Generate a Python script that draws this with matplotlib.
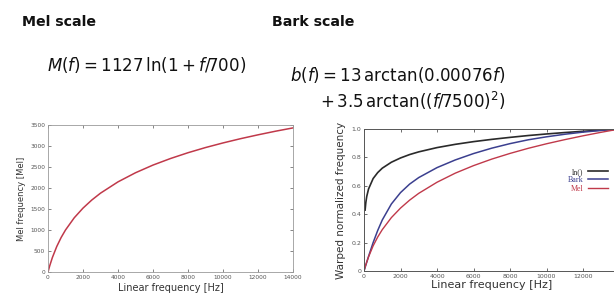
"""
Mel / Bark frequency warping slide — two panels with formulas above.
Output: out.png (614x298)
"""

import matplotlib
matplotlib.use("Agg")
import matplotlib.pyplot as plt

# ----------------------------------------------------------------------
# Data
# ----------------------------------------------------------------------
FREQ_HZ = [0, 100, 250, 500, 750, 1000, 1500, 2000, 2500, 3000, 4000, 5000,
           6000, 7000, 8000, 9000, 10000, 11000, 12000, 13000, 14000]

MEL = [0, 150, 344, 607, 821, 1000, 1291, 1521, 1713, 1877, 2146, 2363,
       2546, 2702, 2840, 2963, 3073, 3174, 3266, 3352, 3431]

MEL_NORM = [0, 0.044, 0.100, 0.177, 0.239, 0.291, 0.376, 0.443, 0.499, 0.547,
            0.625, 0.689, 0.742, 0.788, 0.828, 0.864, 0.896, 0.925, 0.952,
            0.977, 1.0]

BARK_NORM = [0, 0.042, 0.103, 0.200, 0.285, 0.359, 0.472, 0.552, 0.612, 0.658,
             0.728, 0.782, 0.827, 0.865, 0.897, 0.924, 0.945, 0.963, 0.978,
             0.990, 1.0]

LN_FREQ_HZ = [60, 100, 150, 250, 500, 750, 1000, 1500, 2000, 2500, 3000, 4000,
              5000, 6000, 7000, 8000, 9000, 10000, 11000, 12000, 13000, 14000]
LN_NORM = [0.429, 0.482, 0.525, 0.578, 0.651, 0.693, 0.724, 0.766, 0.796,
           0.820, 0.839, 0.869, 0.892, 0.911, 0.927, 0.941, 0.954, 0.965,
           0.975, 0.984, 0.992, 1.0]

LEFT_XTICKS = [0, 2000, 4000, 6000, 8000, 10000, 12000, 14000]
LEFT_YTICKS = [0, 500, 1000, 1500, 2000, 2500, 3000, 3500]
RIGHT_XTICKS = [0, 2000, 4000, 6000, 8000, 10000, 12000, 14000]
# last label falls outside the slide crop, so it is left empty
RIGHT_XLABELS = ["0", "2000", "4000", "6000", "8000", "10000", "12000", ""]
RIGHT_YTICKS = [0, 0.2, 0.4, 0.6, 0.8, 1.0]
RIGHT_YLABELS = ["0", "0.2", "0.4", "0.6", "0.8", "1.0"]

# Colours
RED_MEL   = "#c0394a"
BLUE_BARK = "#3b3f8f"
BLACK_LN  = "#2a2a2a"
TICK_GRAY = "#555555"
SPINE     = "#9a9a9a"

plt.rcParams["mathtext.fontset"] = "dejavusans"

fig = plt.figure(figsize=(6.14, 2.98), dpi=100)
fig.patch.set_facecolor("white")

# ----------------------------------------------------------------------
# Slide text
# ----------------------------------------------------------------------
fig.text(22 / 614, 1 - 22 / 298, "Mel scale", fontsize=10.2,
         fontweight="bold", color="#111111", va="center", ha="left")
fig.text(272 / 614, 1 - 22 / 298, "Bark scale", fontsize=10.2,
         fontweight="bold", color="#111111", va="center", ha="left")

fig.text(47 / 614, 1 - 65 / 298, r"$M(f) = 1127\,\mathrm{ln}(1 + f/700)$",
         fontsize=12, va="center", ha="left", color="#111111")
fig.text(505 / 614, 1 - 75 / 298, r"$b(f) = 13\,\mathrm{arctan}(0.00076f)$",
         fontsize=12, va="center", ha="right", color="#111111")
fig.text(505 / 614, 1 - 101 / 298, r"$+\,3.5\,\mathrm{arctan}((f/7500)^2)$",
         fontsize=12, va="center", ha="right", color="#111111")

# ----------------------------------------------------------------------
# Left panel: Mel scale (MATLAB look)
# ----------------------------------------------------------------------
ax1 = fig.add_axes([48 / 614, 26 / 298, 245 / 614, 147 / 298])
ax1.plot(FREQ_HZ, MEL, color=RED_MEL, lw=1.1)
ax1.set_xlim(0, 14000)
ax1.set_ylim(0, 3500)
ax1.set_xticks(LEFT_XTICKS)
ax1.set_yticks(LEFT_YTICKS)
ax1.tick_params(direction="in", length=2, width=0.5, labelsize=4.2,
                colors=TICK_GRAY, top=True, right=True, pad=2)
for s in ax1.spines.values():
    s.set_color(SPINE)
    s.set_linewidth(0.6)
ax1.set_xlabel("Linear frequency [Hz]", fontsize=7, color="#333333", labelpad=2)
ax1.set_ylabel("Mel frequency [Mel]", fontsize=6, color="#333333", labelpad=3)

# ----------------------------------------------------------------------
# Right panel: normalized warping (gnuplot look, clipped at right edge)
# ----------------------------------------------------------------------
ax2 = fig.add_axes([364 / 614, 27 / 298, 255.5 / 614, 142 / 298])
ax2.plot(LN_FREQ_HZ, LN_NORM, color=BLACK_LN, lw=1.2, label="ln()")
ax2.plot(FREQ_HZ, BARK_NORM, color=BLUE_BARK, lw=1.1, label="Bark")
ax2.plot(FREQ_HZ, MEL_NORM, color=RED_MEL, lw=1.0, label="Mel")
ax2.set_xlim(0, 14000)
ax2.set_ylim(0, 1.0)
ax2.set_xticks(RIGHT_XTICKS)
ax2.set_xticklabels(RIGHT_XLABELS)
ax2.set_yticks(RIGHT_YTICKS)
ax2.set_yticklabels(RIGHT_YLABELS)
ax2.tick_params(direction="in", length=2.5, width=0.6, labelsize=4.5,
                colors=TICK_GRAY, top=True, right=True, pad=2)
for s in ax2.spines.values():
    s.set_color("#555555")
    s.set_linewidth(0.7)
ax2.set_xlabel("Linear frequency [Hz]", fontsize=8, color="#333333", labelpad=1)
ax2.set_ylabel("Warped normalized frequency", fontsize=7.5, color="#333333",
               labelpad=4)

leg = ax2.legend(loc="center right", bbox_to_anchor=(0.985, 0.64),
                 markerfirst=False, frameon=False, handlelength=2.5,
                 handletextpad=0.6, labelspacing=0.05,
                 prop={"family": "Liberation Serif", "size": 5.8})
for txt, col in zip(leg.get_texts(), [BLACK_LN, BLUE_BARK, RED_MEL]):
    txt.set_color(col)

fig.savefig("out.png", dpi=100, facecolor="white")
